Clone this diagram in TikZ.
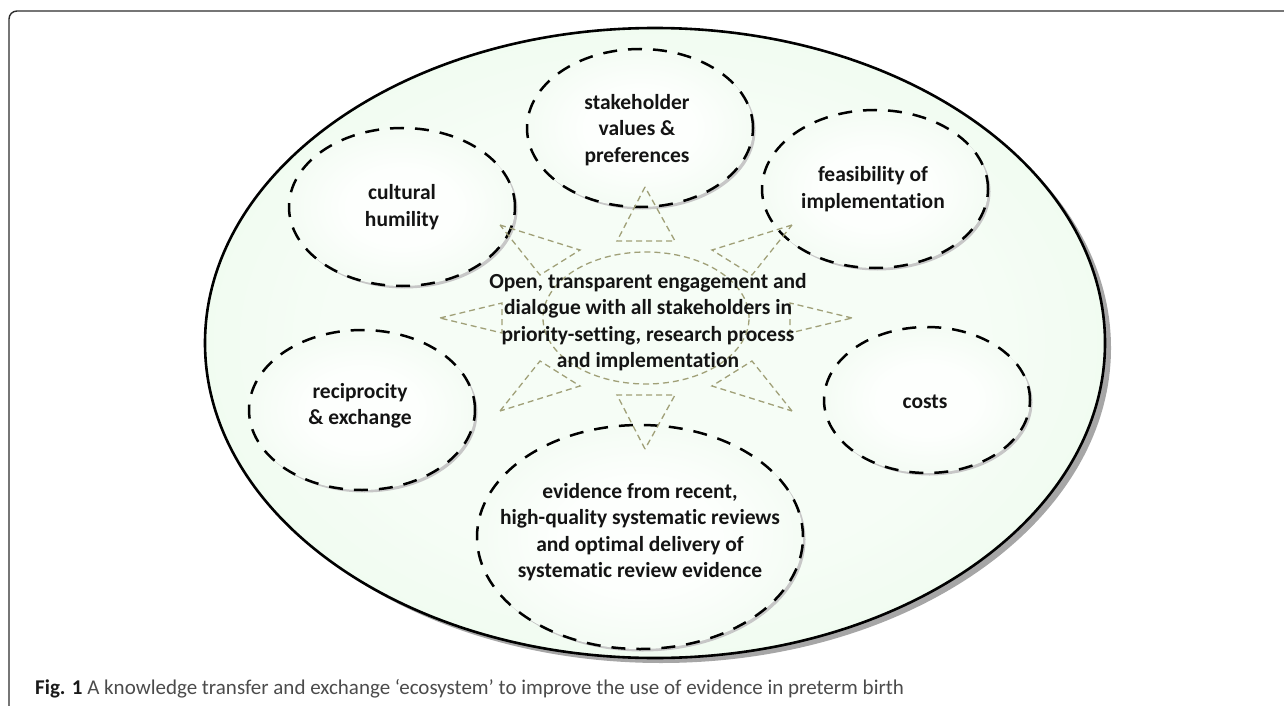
\documentclass[tikz,border=0pt]{standalone}
\usepackage{fontspec}
\setmainfont{Carlito}[Ligatures=NoCommon]
\usetikzlibrary{shapes.geometric,shadows}
\definecolor{ecoIn}{RGB}{246,253,246}
\definecolor{ecoOut}{RGB}{224,247,224}
\definecolor{bubIn}{RGB}{253,255,253}
\definecolor{bubOut}{RGB}{228,246,228}
\definecolor{rayCol}{RGB}{160,160,120}
\definecolor{capGray}{RGB}{75,75,75}
\definecolor{frameCol}{RGB}{45,45,45}
\pgfdeclareradialshading{ecoshade}{\pgfpoint{0bp}{0bp}}{color(0bp)=(ecoIn); color(18bp)=(ecoIn); color(50bp)=(ecoOut)}
\pgfdeclareradialshading{bubshade}{\pgfpoint{0bp}{0bp}}{color(0bp)=(bubIn); color(12bp)=(bubIn); color(50bp)=(bubOut)}
\tikzset{
  ecoshape/.style={ellipse, draw=black, line width=2.6pt, shading=ecoshade, inner sep=0pt,
    drop shadow={shadow xshift=6pt, shadow yshift=-5pt, fill=black!35, opacity=1}},
  bubble/.style={ellipse, draw=black, line width=2.5pt, dash pattern=on 14pt off 11pt,
    shading=bubshade, inner sep=0pt,
    drop shadow={shadow xshift=2.5pt, shadow yshift=-2.5pt, fill=black!22, opacity=1}},
  bubtext/.style={font=\bfseries\fontsize{21.5}{26.5}\selectfont, align=center, text=black!92, inner sep=0pt},
  ray/.style={draw=rayCol, line width=1.3pt, dash pattern=on 6pt off 4pt},
  framestyle/.style={draw=frameCol, line width=1.4pt, rounded corners=8pt}
}
\begin{document}
\begin{tikzpicture}[x=1pt, y=-1pt]
\useasboundingbox (0,0) rectangle (1284,706);
\draw[framestyle] (9,706) -- (9,11) -- (1284,11);

\node[ecoshape, minimum width=900pt, minimum height=630pt] (eco) at (655,343) {};

\node[bubble, minimum width=226pt, minimum height=158pt] (stakeE) at (640,128) {};
\node[bubble, minimum width=226pt, minimum height=158pt] (feasE) at (875,189) {};
\node[bubble, minimum width=226pt, minimum height=158pt] (cultE) at (402,207) {};
\node[bubble, minimum width=226pt, minimum height=160pt] (recipE) at (362,410) {};
\node[bubble, minimum width=206pt, minimum height=146pt] (costE) at (927,400) {};
\node[bubble, minimum width=326pt, minimum height=224pt] (evidE) at (640,537) {};

% sun shape in the centre
\draw[ray] (646,318) ellipse [x radius=103pt, y radius=66pt];
\draw[ray] (645,187) -- (617,241) -- (675,241) -- cycle;
\draw[ray] (645,449) -- (617,395) -- (675,395) -- cycle;
\draw[ray] (440,318) -- (502,303) -- (502,333) -- cycle;
\draw[ray] (852,318) -- (790,303) -- (790,333) -- cycle;
\draw[ray] (500,225) -- (580,250) -- (540,275) -- cycle;
\draw[ray] (792,225) -- (712,250) -- (752,275) -- cycle;
\draw[ray] (500,411) -- (540,361) -- (580,386) -- cycle;
\draw[ray] (792,411) -- (752,361) -- (712,386) -- cycle;

\node[bubtext] (stakeT) at (637,130) {stakeholder\\values \&\\preferences};
\node[bubtext] (feasT) at (873,189) {feasibility of\\implementation};
\node[bubtext] (cultT) at (402,207) {cultural\\humility};
\node[bubtext] (recipT) at (360,406) {reciprocity\\\& exchange};
\node[bubtext] (costT) at (925,402) {costs};
\node[bubtext] (evidT) at (640,532) {evidence from recent,\\high-quality systematic reviews\\and optimal delivery of\\systematic review evidence};
\node[bubtext] (centT) at (648,322) {Open, transparent engagement and\\dialogue with all stakeholders in\\priority-setting, research process\\and implementation};

\node[anchor=west, inner sep=0pt, font=\fontsize{21}{24}\selectfont, text=capGray] (cap) at (35,689)
  {\textcolor{black!90}{\textbf{Fig. 1}} A knowledge transfer and exchange ‘ecosystem’ to improve the use of evidence in preterm birth};
\end{tikzpicture}
\end{document}
